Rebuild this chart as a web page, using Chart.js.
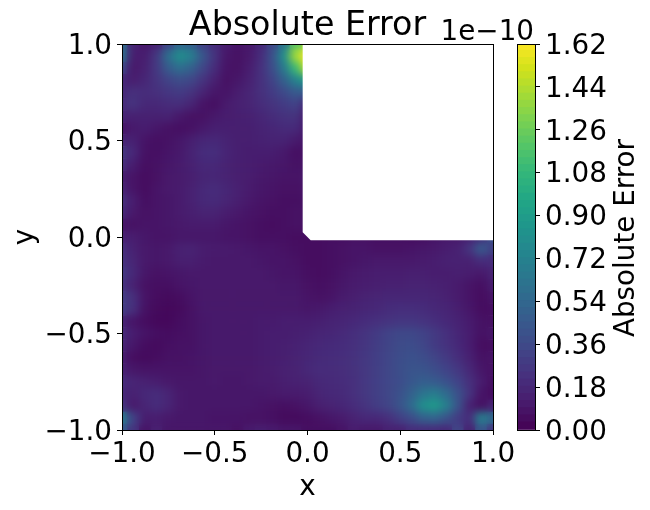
<!DOCTYPE html>
<html>
<head>
<meta charset="utf-8">
<script src="https://cdn.jsdelivr.net/npm/chart.js@4/dist/chart.umd.js"></script>
<style>
    html, body { margin: 0; background: #fff; }
    canvas { position: absolute; left: 0; top: 0; }
</style>
</head>
<body>
<canvas id="field" width="650" height="510"></canvas>
<canvas id="colorbar" width="650" height="510"></canvas>
<script>
const xValues = [-1, -0.9375, -0.875, -0.8125, -0.75, -0.6875, -0.625, -0.5625, -0.5, -0.4375, -0.375, -0.3125, -0.25, -0.1875, -0.125, -0.0625, 0,
    0.0625, 0.125, 0.1875, 0.25, 0.3125, 0.375, 0.4375, 0.5, 0.5625, 0.625, 0.6875, 0.75, 0.8125, 0.875, 0.9375, 1];
const yValues = [1, 0.9375, 0.875, 0.8125, 0.75, 0.6875, 0.625, 0.5625, 0.5, 0.4375, 0.375, 0.3125, 0.25, 0.1875, 0.125, 0.0625, 0,
    -0.0625, -0.125, -0.1875, -0.25, -0.3125, -0.375, -0.4375, -0.5, -0.5625, -0.625, -0.6875, -0.75, -0.8125, -0.875, -0.9375, -1];

// absolute error in units of 1e-12, one row per y value, top row first
const errorRows = [
    [58,16,10,14,32,52,48,30,20,12,8,10,18,34,62,120,135],
    [62,12,12,26,58,80,70,44,24,9,7,10,20,40,80,140,170],
    [36,10,14,26,46,58,50,34,20,8,7,12,22,38,66,110,150],
    [18,12,17,24,32,38,34,24,14,7,9,14,22,32,50,72,90],
    [18,22,20,22,25,28,24,16,9,8,12,16,22,28,36,46,46],
    [20,24,18,18,20,21,16,8,6,11,14,16,20,24,28,32,16],
    [16,14,14,14,15,10,7,7,10,12,13,14,17,20,23,24,10],
    [8,10,12,9,7,6,7,10,13,13,13,13,15,17,19,19,9],
    [16,14,8,6,7,9,13,17,18,15,13,13,14,15,15,11,8],
    [26,18,7,6,8,10,15,20,21,16,13,12,12,12,10,6,7],
    [22,12,6,7,9,11,14,18,18,15,13,12,11,10,9,7,8],
    [12,8,5,7,10,11,13,16,17,15,13,12,10,9,8,8,9],
    [16,8,5,8,10,11,14,18,20,17,14,11,9,8,7,7,8],
    [22,12,6,8,9,11,14,18,19,16,13,10,8,7,6,6,7],
    [18,10,7,8,9,11,13,15,15,12,10,8,7,6,6,7,7],
    [8,7,8,8,9,10,11,11,11,9,8,7,6,5,6,7,7],
    [14,12,9,8,8,9,9,9,9,8,8,7,6,6,6,5,5,5,6,6,7,7,6,6,6,5,6,8,10,10,14,20,40],
    [22,14,10,9,10,14,15,12,11,11,10,9,8,8,7,6,5,5,6,7,8,8,7,7,7,8,9,10,12,14,24,46,30],
    [24,16,10,9,10,13,13,11,10,10,10,10,9,8,8,7,5,5,6,7,8,9,10,10,10,10,11,12,14,14,14,20,20],
    [28,18,9,7,8,9,10,10,10,10,10,10,10,9,8,8,6,5,6,8,10,11,12,12,12,13,13,12,12,13,12,10,16],
    [24,14,7,6,6,8,9,10,10,10,10,10,10,10,9,9,7,6,7,9,11,12,13,14,14,15,15,14,13,11,8,6,12],
    [30,22,8,5,4,5,8,10,10,10,10,10,10,10,10,10,8,7,8,11,13,15,16,17,17,17,17,16,14,11,8,5,8],
    [30,22,7,4,3,4,7,10,10,10,10,10,10,10,10,10,9,10,12,14,15,17,18,20,21,21,20,18,16,13,9,5,6],
    [16,8,5,3,3,5,7,9,10,10,10,10,11,11,12,12,12,13,15,16,18,20,22,24,25,25,24,21,18,15,11,7,7],
    [20,12,8,6,5,6,7,9,10,10,10,10,11,12,12,13,14,16,17,19,21,24,28,32,35,35,32,27,22,17,12,7,9],
    [16,9,5,4,6,7,7,9,10,10,10,10,11,12,13,14,16,18,19,20,22,25,29,33,37,38,34,28,23,18,12,5,6],
    [12,5,4,5,7,7,8,9,10,10,10,10,11,12,13,15,17,19,20,21,23,26,30,34,38,40,38,33,27,21,14,7,8],
    [14,9,8,8,8,8,8,9,10,10,10,10,11,12,14,15,18,20,20,21,23,26,30,34,39,42,42,38,32,26,18,9,7],
    [20,16,14,12,10,9,9,9,10,9,9,10,11,11,13,14,15,18,19,20,22,26,30,34,38,44,48,46,40,32,22,12,6],
    [18,14,18,20,16,10,9,9,9,9,9,9,9,10,11,11,12,16,18,19,22,26,30,34,40,50,62,68,56,40,24,8,5],
    [24,10,16,20,16,10,9,9,9,9,9,9,8,7,6,7,9,13,15,17,20,24,29,33,42,56,80,88,70,42,14,6,16],
    [70,32,12,12,10,9,9,9,8,8,8,7,7,6,4,4,5,7,9,11,15,18,18,22,30,38,50,52,42,28,20,72,54],
    [46,24,8,14,9,9,9,9,9,9,7,11,13,11,9,9,6,6,6,8,12,10,10,14,14,20,20,20,18,34,14,44,26],
];

// white notch in the upper right corner of the domain
const holeX = [-0.026, 1, 1, 0.017, -0.026, -0.026];
const holeY = [1, 1, -0.017, -0.017, 0.025, 1];

const xTickLabels = ['\u22121.0', '\u22120.5', '0.0', '0.5', '1.0'];
const yTickLabels = ['1.0', '0.5', '0.0', '\u22120.5', '\u22121.0'].reverse();
const barTickLabels = ['0.00', '0.18', '0.36', '0.54', '0.72', '0.90', '1.08', '1.26', '1.44', '1.62'];

const colorBands = [0, 0.03, 0.06, 0.09, 0.12, 0.15, 0.18, 0.21, 0.24, 0.27, 0.3, 0.33, 0.36, 0.39, 0.42, 0.45, 0.48, 0.51,
    0.54, 0.57, 0.6, 0.63, 0.66, 0.69, 0.72, 0.75, 0.78, 0.81, 0.84, 0.87, 0.9, 0.93, 0.96, 0.99, 1.02, 1.05, 1.08,
    1.11, 1.14, 1.17, 1.2, 1.23, 1.26, 1.29, 1.32, 1.35, 1.38, 1.41, 1.44, 1.47, 1.5, 1.53, 1.56, 1.59];

const viridis = [[68,1,84],[72,27,109],[71,47,125],[65,68,135],[57,86,140],[49,104,142],[42,120,142],[35,136,142],
    [31,152,139],[34,168,132],[53,183,121],[84,197,104],[122,209,81],[165,219,54],[210,226,27],[253,231,37]];

const FONT = 'DejaVu Sans, sans-serif';
const TICK_SIZE = 27.8;
const MAX_VALUE = 1.62;

function colorFor(value) {
    const t = Math.min(value / MAX_VALUE, 1) * (viridis.length - 1);
    const i = Math.min(Math.floor(t), viridis.length - 2);
    const c = viridis[i].map((v, k) => Math.round(v + (viridis[i + 1][k] - v) * (t - i)));
    return `rgb(${c[0]}, ${c[1]}, ${c[2]})`;
}

const fieldPoints = errorRows.flatMap((row, r) => row.map((v, c) => ({ x: xValues[c], y: yValues[r], v: v / 100 })));

function tickOptions(labels) {
    return {
        color: '#000',
        font: { family: FONT, size: TICK_SIZE },
        autoSkip: false,
        maxRotation: 0,
        callback: (value, index) => labels[index],
    };
}

const axisLines = {
    grid: { drawOnChartArea: false, tickLength: 5, tickColor: '#000', tickWidth: 1 },
    border: { color: '#000', width: 1 },
};

// blur the finished cells in place so the field reads as a smooth surface
const smoothField = {
    id: 'smoothField',
    afterDatasetDraw(chart, args) {
        if (args.index !== 1) return;
        const { left, top, width, height } = chart.chartArea;
        const ctx = chart.ctx;
        ctx.save();
        ctx.beginPath();
        ctx.rect(left, top, width, height);
        ctx.clip();
        ctx.filter = 'blur(4px)';
        ctx.drawImage(chart.canvas, left, top, width, height, left, top, width, height);
        ctx.restore();
    },
};

const frame = {
    id: 'frame',
    afterDraw(chart) {
        const { left, top, right, bottom } = chart.chartArea;
        const ctx = chart.ctx;
        ctx.save();
        ctx.strokeStyle = '#000';
        ctx.lineWidth = 1;
        ctx.strokeRect(Math.round(left) + 0.5, Math.round(top) + 0.5, Math.round(right - left), Math.round(bottom - top));
        ctx.restore();
    },
};

new Chart(document.getElementById('field').getContext('2d'), {
    type: 'scatter',
    data: {
        datasets: [{
            data: holeX.map((x, i) => ({ x, y: holeY[i] })),
            showLine: true,
            fill: 'shape',
            backgroundColor: '#fff',
            borderColor: '#fff',
            borderWidth: 0,
            pointRadius: 0,
            tension: 0,
        }, {
            data: fieldPoints,
            pointStyle: 'rect',
            pointRadius: 8.8,
            borderWidth: 0,
            backgroundColor: fieldPoints.map((p) => colorFor(p.v)),
        }],
    },
    options: {
        responsive: false,
        animation: false,
        devicePixelRatio: 1,
        layout: { padding: { right: 157 } },
        plugins: {
            legend: { display: false },
            tooltip: { enabled: false },
            title: {
                display: true,
                text: 'Absolute Error',
                color: '#000',
                fullSize: false,
                font: { family: FONT, size: 33.3, weight: 'normal', lineHeight: 1 },
                padding: { top: 10, bottom: 0.7 },
            },
        },
        scales: {
            x: {
                type: 'linear',
                min: -1,
                max: 1,
                ...axisLines,
                ticks: { ...tickOptions(xTickLabels), stepSize: 0.5, padding: 3 },
                title: { display: true, text: 'x', color: '#000', font: { family: FONT, size: 27.8 }, padding: { top: 0, bottom: 6 } },
                afterFit(axis) {
                    axis.height = 80;
                },
            },
            y: {
                type: 'linear',
                min: -1,
                max: 1,
                ...axisLines,
                ticks: { ...tickOptions(yTickLabels), stepSize: 0.5, padding: 5, labelOffset: 2.5 },
                title: { display: true, text: 'y', color: '#000', font: { family: FONT, size: 27.8 }, padding: { top: 9, bottom: 0 } },
                afterFit(axis) {
                    axis.width = 122;
                },
            },
        },
    },
    plugins: [smoothField, frame],
});

const barTexts = {
    id: 'barTexts',
    afterDraw(chart) {
        const ctx = chart.ctx;
        ctx.save();
        ctx.fillStyle = '#000';
        ctx.font = `${TICK_SIZE}px ${FONT}`;
        ctx.textAlign = 'right';
        ctx.textBaseline = 'alphabetic';
        ctx.fillText('1e\u221210', 534, 40);
        ctx.translate(634, 238);
        ctx.rotate(-Math.PI / 2);
        ctx.textAlign = 'center';
        ctx.fillText('Absolute Error', 0, 0);
        ctx.restore();
    },
};

new Chart(document.getElementById('colorbar').getContext('2d'), {
    type: 'bar',
    data: {
        labels: ['band'],
        datasets: colorBands.map((b) => ({
            data: [[b, Math.min(b + 0.034, MAX_VALUE)]],
            backgroundColor: colorFor(b + 0.015),
            grouped: false,
            barPercentage: 1,
            categoryPercentage: 1,
        })),
    },
    options: {
        responsive: false,
        animation: false,
        devicePixelRatio: 1,
        layout: { padding: { left: 517, top: 44, bottom: 80 } },
        plugins: { legend: { display: false }, tooltip: { enabled: false } },
        scales: {
            x: { display: false },
            y: {
                position: 'right',
                min: 0,
                max: MAX_VALUE,
                ...axisLines,
                ticks: { ...tickOptions(barTickLabels), stepSize: 0.18, padding: 5, labelOffset: 2.5 },
                afterFit(axis) {
                    axis.width = 115;
                },
            },
        },
    },
    plugins: [frame, barTexts],
});
</script>
</body>
</html>
